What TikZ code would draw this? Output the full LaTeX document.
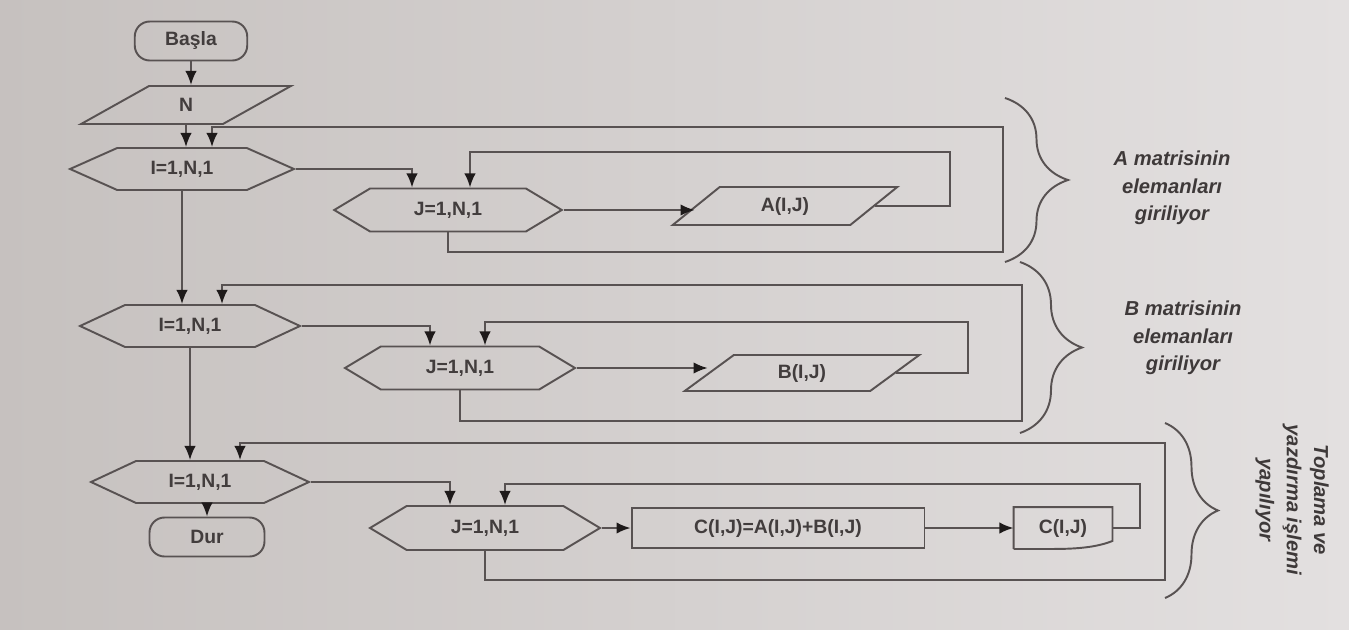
\documentclass[tikz,border=0pt]{standalone}
\usepackage{fontspec}
\setmainfont{Liberation Sans}
\usetikzlibrary{shapes.geometric, shapes.symbols, arrows.meta, decorations.pathreplacing}
\definecolor{paperL}{RGB}{198,193,191}
\definecolor{paperR}{RGB}{227,224,224}
\definecolor{ink}{RGB}{88,82,82}
\definecolor{tipink}{RGB}{30,26,26}
\tikzset{
  box/.style={draw=ink, line width=1.1pt, text=ink!75!black, inner sep=0pt,
    font=\bfseries\fontsize{11}{12}\selectfont},
  term/.style={box, rectangle, rounded corners=0.3cm, minimum height=0.78cm},
  hexa/.style={box, signal, signal to=west and east, minimum height=0.84cm},
  inout/.style={box, trapezium, trapezium left angle=46, trapezium right angle=134,
    trapezium stretches=true, minimum height=0.76cm},
  proc/.style={box, rectangle, minimum height=0.8cm},
  arr/.style={draw=ink, line width=1.1pt, -{Latex[length=8pt, width=6.5pt, color=tipink]}},
  curly/.style={draw=ink, line width=1.1pt, decorate, decoration={brace, amplitude=#1}},
  note/.style={text=ink!70!black, align=center,
    font=\bfseries\itshape\fontsize{11.5}{15.5}\selectfont}
}
\begin{document}
\begin{tikzpicture}[x=0.02cm, y=-0.02cm]
  \useasboundingbox (0,0) rectangle (1349,629);
  \shade[left color=paperL, right color=paperR] (0,0) rectangle (1349,629);

  % A matrisi
  \node[term, minimum width=2.25cm] (start) at (191,41) {Başla};
  \node[inout, minimum width=4.2cm] (inN) at (186,105) {N};
  \node[hexa, signal pointer angle=48, minimum width=4.48cm] (loopIa) at (182,169) {I=1,N,1};
  \node[hexa, signal pointer angle=62, minimum width=4.55cm, minimum height=0.86cm] (loopJa) at (448,210) {J=1,N,1};
  \node[inout, minimum width=4.5cm] (readA) at (785,206) {A(I,J)};

  % B matrisi
  \node[hexa, signal pointer angle=50, minimum width=4.4cm] (loopIb) at (190,326) {I=1,N,1};
  \node[hexa, signal pointer angle=62, minimum width=4.6cm, minimum height=0.86cm] (loopJb) at (460,368) {J=1,N,1};
  \node[inout, minimum width=4.7cm, minimum height=0.72cm] (readB) at (802,373) {B(I,J)};

  % toplama
  \node[hexa, signal pointer angle=50, minimum width=4.36cm] (loopIc) at (200,482) {I=1,N,1};
  \node[hexa, signal pointer angle=62, minimum width=4.6cm, minimum height=0.88cm] (loopJc) at (485,528) {J=1,N,1};
  \node[proc, minimum width=5.86cm] (sumC) at (778,528) {C(I,J)=A(I,J)+B(I,J)};
  \node[box, draw=none, minimum width=1.94cm, minimum height=0.8cm] (printC) at (1063,528) {C(I,J)};
  \draw[ink, line width=1.1pt] (printC.south west) -- (printC.north west) -- (printC.north east)
    -- ([yshift=0.16cm]printC.south east) .. controls +(-0.3cm,-0.12cm) and +(0.5cm,0) .. ([xshift=0.8cm]printC.south west)
    -- (printC.south west);
  \node[term, minimum width=2.3cm] (stop) at (207,537) {Dur};

  % baglantilar A
  \coordinate (toJa) at (412,169);
  \coordinate (inJa) at (470,152);
  \coordinate (backA) at (950,152);
  \coordinate (exitA) at (1003,252);
  \coordinate (retA) at (212,127);
  \draw[arr] (start) -- (start |- inN.north);
  \draw[arr] (inN.south) -- (inN.south |- loopIa.north);
  \draw[arr] (loopIa.east) -| (toJa |- loopJa.north);
  \draw[arr] (loopJa.east) -- (loopJa.east -| readA.west);
  \draw[arr] (readA.east) -| (backA) -- (inJa) -- (inJa |- loopJa.north);
  \draw[arr] (loopJa.south) |- (exitA) |- (retA) -- (retA |- loopIa.north);
  \draw[arr] (loopIa.south) -- (loopIa.south |- loopIb.north);

  % baglantilar B
  \coordinate (toJb) at (430,326);
  \coordinate (inJb) at (485,322);
  \coordinate (backB) at (968,322);
  \coordinate (exitB) at (1022,421);
  \coordinate (retB) at (222,285);
  \draw[arr] (loopIb.east) -| (toJb |- loopJb.north);
  \draw[arr] (loopJb.east) -- (loopJb.east -| readB.west);
  \draw[arr] (readB.east) -| (backB) -- (inJb) -- (inJb |- loopJb.north);
  \draw[arr] (loopJb.south) |- (exitB) |- (retB) -- (retB |- loopIb.north);
  \draw[arr] (loopIb.south) -- (loopIb.south |- loopIc.north);

  % baglantilar C
  \coordinate (toJc) at (450,482);
  \coordinate (inJc) at (505,484);
  \coordinate (backC) at (1140,484);
  \coordinate (exitC) at (1165,580);
  \coordinate (retC) at (240,443);
  \draw[arr] (loopIc.east) -| (toJc |- loopJc.north);
  \draw[arr] (loopJc.east) -- (sumC.west);
  \draw[arr] (sumC.east) -- (printC.west);
  \draw[arr] (printC.east) -| (backC) -- (inJc) -- (inJc |- loopJc.north);
  \draw[arr] (loopJc.south) |- (exitC) |- (retC) -- (retC |- loopIc.north);
  \draw[arr] (loopIc.south -| stop.north) -- (stop.north);

  % aciklamalar
  \draw[curly=1.26cm] (1005,98) -- (1005,262);
  \draw[curly=1.24cm] (1020,262) -- (1020,433);
  \draw[curly=1.06cm] (1165,423) -- (1165,598);
  \node[note] (noteA) at (1172,188) {A matrisinin\\elemanları\\giriliyor};
  \node[note] (noteB) at (1183,338) {B matrisinin\\elemanları\\giriliyor};
  \node[note, rotate=-90] (noteC) at (1292,500) {Toplama ve\\yazdırma işlemi\\yapılıyor};
\end{tikzpicture}
\end{document}
